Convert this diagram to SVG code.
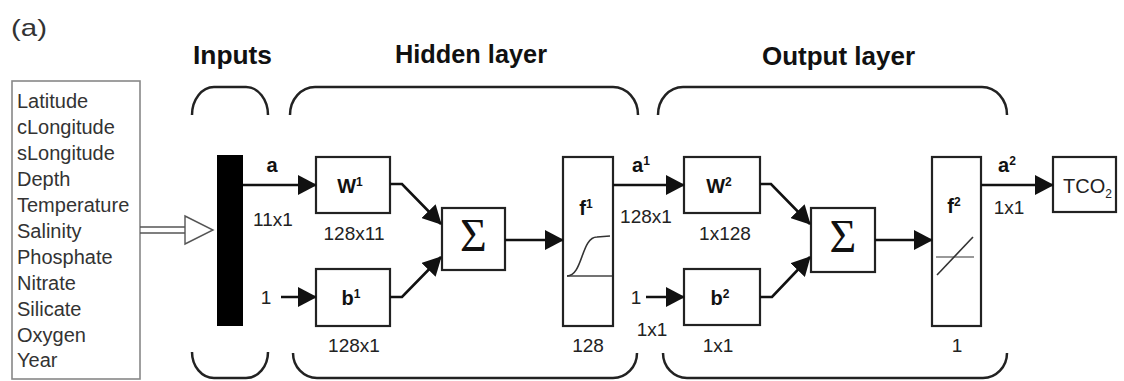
<svg xmlns="http://www.w3.org/2000/svg" width="1124" height="381" viewBox="0 0 1124 381">
<style>
text{font-family:"Liberation Sans",Arial,sans-serif;fill:#111}
.title{font-size:25px;font-weight:bold}
.list{font-size:20px;fill:#333}
.dim{font-size:19px;fill:#222}
.lbl{font-size:20px;font-weight:bold}
.box{fill:#fff;stroke:#222;stroke-width:2.2}
.br{fill:none;stroke:#222;stroke-width:2.5}
.con{fill:none;stroke:#111;stroke-width:2.6}
</style>
<defs>
<marker id="ah" markerUnits="userSpaceOnUse" markerWidth="20" markerHeight="20" refX="18" refY="10" orient="auto">
<path d="M0,0 L19,10 L0,20 Z" fill="#111"/>
</marker>
</defs>
<rect width="1124" height="381" fill="#fff"/>
<text x="11" y="36" style="font-family:'Liberation Sans',Arial,sans-serif;font-size:24px;fill:#333" textLength="36" lengthAdjust="spacingAndGlyphs">(a)</text>

<g id="titles">
<text class="title" x="193" y="64" textLength="79" lengthAdjust="spacingAndGlyphs">Inputs</text>
<text class="title" x="395" y="63" textLength="152" lengthAdjust="spacingAndGlyphs">Hidden layer</text>
<text class="title" x="762" y="65" textLength="153" lengthAdjust="spacingAndGlyphs">Output layer</text>
</g>

<g id="brackets">
<path class="br" d="M192,115 A22,28 0 0 1 214,87 H246 A22,28 0 0 1 268,115"/>
<path class="br" d="M290,115 A25,28 0 0 1 315,87 H613 A25,28 0 0 1 638,115"/>
<path class="br" d="M658,115 A25,28 0 0 1 683,87 H982 A25,28 0 0 1 1007,115"/>
<path class="br" d="M192,352 A22,26 0 0 0 214,378 H246 A22,26 0 0 0 268,352"/>
<path class="br" d="M293,353 A24,25 0 0 0 317,378 H613 A24,25 0 0 0 637,353"/>
<path class="br" d="M663,353 A24,25 0 0 0 687,378 H983 A24,25 0 0 0 1007,353"/>
</g>

<g id="input-list">
<rect x="12" y="81" width="128" height="298" fill="#fff" stroke="#888" stroke-width="1.6"/>
<text class="list" x="17" y="108">Latitude</text>
<text class="list" x="17" y="134">cLongitude</text>
<text class="list" x="17" y="160">sLongitude</text>
<text class="list" x="17" y="186">Depth</text>
<text class="list" x="17" y="212">Temperature</text>
<text class="list" x="17" y="238">Salinity</text>
<text class="list" x="17" y="264">Phosphate</text>
<text class="list" x="17" y="290">Nitrate</text>
<text class="list" x="17" y="316">Silicate</text>
<text class="list" x="17" y="342">Oxygen</text>
<text class="list" x="17" y="367">Year</text>
</g>

<g id="input-bar">
<rect x="217" y="155" width="26" height="171" fill="#000"/>
</g>

<g id="W1">
<rect class="box" x="316" y="157" width="74" height="56"/>
<text class="lbl" x="350" y="193" text-anchor="middle">W<tspan dy="-7" style="font-size:12px">1</tspan></text>
</g>
<g id="b1">
<rect class="box" x="316" y="269" width="74" height="57"/>
<text class="lbl" x="351" y="305" text-anchor="middle">b<tspan dy="-7" style="font-size:12px">1</tspan></text>
</g>
<g id="sum1">
<rect class="box" x="442" y="208" width="63" height="62"/>
<text x="473.5" y="251" text-anchor="middle" style="font-family:'Liberation Serif','DejaVu Serif',serif;font-size:46px">Σ</text>
</g>
<g id="f1">
<rect class="box" x="563" y="157" width="50" height="169"/>
<text class="lbl" x="586" y="215" text-anchor="middle">f<tspan dy="-7" style="font-size:12px">1</tspan></text>
<line x1="567" y1="276" x2="612" y2="276" stroke="#444" stroke-width="1.6"/>
<path d="M567,276 C583,276 581,237 597,237 L610,236" fill="none" stroke="#333" stroke-width="1.6"/>
</g>
<g id="W2">
<rect class="box" x="684" y="157" width="76" height="56"/>
<text class="lbl" x="719" y="193" text-anchor="middle">W<tspan dy="-7" style="font-size:12px">2</tspan></text>
</g>
<g id="b2">
<rect class="box" x="684" y="269" width="76" height="56"/>
<text class="lbl" x="720" y="305" text-anchor="middle">b<tspan dy="-7" style="font-size:12px">2</tspan></text>
</g>
<g id="sum2">
<rect class="box" x="811" y="208" width="64" height="64"/>
<text x="843" y="252" text-anchor="middle" style="font-family:'Liberation Serif','DejaVu Serif',serif;font-size:46px">Σ</text>
</g>
<g id="f2">
<rect class="box" x="932" y="157" width="49" height="169"/>
<text class="lbl" x="954" y="213" text-anchor="middle">f<tspan dy="-7" style="font-size:12px">2</tspan></text>
<line x1="936" y1="257" x2="974" y2="257" stroke="#777" stroke-width="1.6"/>
<line x1="937" y1="275" x2="973" y2="237" stroke="#333" stroke-width="1.6"/>
</g>
<g id="TCO2">
<rect class="box" x="1053" y="157" width="63" height="55"/>
<text x="1063" y="193" style="font-size:20px;fill:#222">TCO<tspan dy="5" style="font-size:12px">2</tspan></text>
</g>

<g id="connectors">
<line x1="140" y1="227" x2="186" y2="227" stroke="#555" stroke-width="1.4"/>
<line x1="140" y1="233" x2="186" y2="233" stroke="#555" stroke-width="1.4"/>
<path d="M185,216 L213,230 L185,244 Z" fill="#fff" stroke="#555" stroke-width="1.4"/>
<line class="con" x1="243" y1="185" x2="316" y2="185" marker-end="url(#ah)"/>
<line class="con" x1="281" y1="297" x2="316" y2="297" marker-end="url(#ah)"/>
<path class="con" d="M390,184 H402 L441,224" marker-end="url(#ah)"/>
<path class="con" d="M390,297 H402 L441,257" marker-end="url(#ah)"/>
<line class="con" x1="505" y1="240" x2="563" y2="240" marker-end="url(#ah)"/>
<line class="con" x1="613" y1="185" x2="684" y2="185" marker-end="url(#ah)"/>
<line class="con" x1="646" y1="297" x2="684" y2="297" marker-end="url(#ah)"/>
<path class="con" d="M760,184 H771 L810,224" marker-end="url(#ah)"/>
<path class="con" d="M760,297 H772 L810,257" marker-end="url(#ah)"/>
<line class="con" x1="875" y1="240" x2="932" y2="240" marker-end="url(#ah)"/>
<line class="con" x1="981" y1="185" x2="1053" y2="185" marker-end="url(#ah)"/>
</g>

<g id="labels">
<text class="lbl" x="272" y="172" text-anchor="middle">a</text>
<text class="dim" x="273" y="226" text-anchor="middle">11x1</text>
<text class="dim" x="266" y="304" text-anchor="middle">1</text>
<text class="dim" x="354" y="240" text-anchor="middle">128x11</text>
<text class="dim" x="354" y="352" text-anchor="middle">128x1</text>
<text class="dim" x="588" y="352" text-anchor="middle">128</text>
<text class="lbl" x="641" y="172" text-anchor="middle">a<tspan dy="-7" style="font-size:12px">1</tspan></text>
<text class="dim" x="646" y="223" text-anchor="middle">128x1</text>
<text class="dim" x="636" y="304" text-anchor="middle">1</text>
<text class="dim" x="652" y="336" text-anchor="middle">1x1</text>
<text class="dim" x="725" y="240" text-anchor="middle">1x128</text>
<text class="dim" x="718" y="352" text-anchor="middle">1x1</text>
<text class="dim" x="957" y="352" text-anchor="middle">1</text>
<text class="lbl" x="1007" y="172" text-anchor="middle">a<tspan dy="-7" style="font-size:12px">2</tspan></text>
<text class="dim" x="1009" y="214" text-anchor="middle">1x1</text>
</g>
</svg>
